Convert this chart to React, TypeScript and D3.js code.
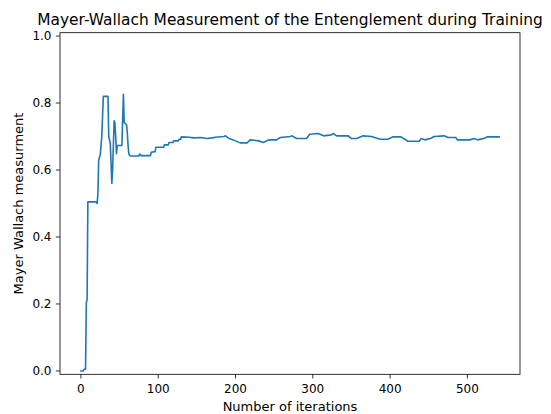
import React from "react";
import * as d3 from "d3";

const iterations = [0, 3, 4, 6, 7, 8, 9, 20, 21, 22, 23, 25, 26, 27, 29, 35, 36, 38, 40, 41, 43, 44, 45, 46, 47, 53, 55, 56, 59, 60, 61, 62, 64, 75, 76, 78, 90, 91, 96, 97, 107, 108, 113, 114, 119, 120, 126, 127, 129, 130, 140, 146, 155, 163, 170, 174, 185, 187, 191, 200, 206, 215, 219, 230, 236, 243, 253, 258, 271, 273, 279, 292, 296, 307, 314, 324, 326, 331, 346, 350, 357, 365, 376, 387, 397, 404, 414, 419, 423, 438, 440, 445, 453, 457, 470, 475, 485, 487, 503, 509, 513, 522, 526, 541];
const values = [0.0, 0.0, 0.005, 0.005, 0.205, 0.212, 0.505, 0.505, 0.5, 0.53, 0.63, 0.645, 0.672, 0.7, 0.82, 0.82, 0.7, 0.68, 0.56, 0.6, 0.747, 0.74, 0.7, 0.649, 0.673, 0.673, 0.826, 0.742, 0.735, 0.712, 0.673, 0.648, 0.642, 0.642, 0.648, 0.643, 0.643, 0.653, 0.655, 0.668, 0.668, 0.675, 0.675, 0.682, 0.682, 0.687, 0.687, 0.692, 0.692, 0.699, 0.698, 0.696, 0.697, 0.694, 0.696, 0.698, 0.7, 0.702, 0.695, 0.687, 0.681, 0.681, 0.69, 0.687, 0.682, 0.69, 0.69, 0.697, 0.7, 0.702, 0.694, 0.694, 0.707, 0.709, 0.702, 0.705, 0.709, 0.702, 0.702, 0.694, 0.694, 0.702, 0.7, 0.692, 0.692, 0.699, 0.699, 0.692, 0.686, 0.686, 0.694, 0.69, 0.695, 0.7, 0.702, 0.697, 0.697, 0.69, 0.69, 0.694, 0.69, 0.695, 0.699, 0.699];
const xTicks = [0, 100, 200, 300, 400, 500];
const yTicks = [0.0, 0.2, 0.4, 0.6, 0.8, 1.0];
const title = "Mayer-Wallach Measurement of the Entenglement during Training";
const xLabel = "Number of iterations";
const yLabel = "Mayer Wallach measurment";

export default function App() {
  const W = 551, H = 414;
  const left = 60, right = 520, top = 32.7, bottom = 374.3;
  const x = d3.scaleLinear().domain([-27.05, 568.05]).range([left, right]);
  const y = d3.scaleLinear().domain([-0.01, 1.01]).range([bottom, top]);
  const pts: [number, number][] = iterations.map((it, i) => [it, values[i]]);
  const line = d3.line<[number, number]>().x(d => x(d[0])).y(d => y(d[1]));
  const font = "DejaVu Sans, sans-serif";
  return (
    <svg width={W} height={H} style={{ position: "absolute", left: 0, top: 0, background: "#fff" }} fontFamily={font}>
      <rect x={0} y={0} width={W} height={H} fill="#fff" />
      <path d={line(pts) || ""} fill="none" stroke="#1f77b4" strokeWidth={1.6} strokeLinejoin="round" strokeLinecap="square" />
      <rect x={left} y={top} width={right - left} height={bottom - top} fill="none" stroke="#000" strokeWidth={0.8} />
      {xTicks.map(t => (
        <g key={"x" + t}>
          <line x1={x(t)} x2={x(t)} y1={bottom} y2={bottom + 4.2} stroke="#000" strokeWidth={0.8} />
          <text x={x(t)} y={393} fontSize={12} textAnchor="middle" fill="#000">{t}</text>
        </g>
      ))}
      {yTicks.map(t => (
        <g key={"y" + t}>
          <line x1={left - 4.2} x2={left} y1={y(t)} y2={y(t)} stroke="#000" strokeWidth={0.8} />
          <text x={51.5} y={y(t) + 4.3} fontSize={12} textAnchor="end" fill="#000">{t.toFixed(1)}</text>
        </g>
      ))}
      <text x={(left + right) / 2} y={25} fontSize={15.4} textAnchor="middle" fill="#000">{title}</text>
      <text x={(left + right) / 2} y={410.5} fontSize={13} textAnchor="middle" fill="#000">{xLabel}</text>
      <text transform={`translate(23,${(top + bottom) / 2}) rotate(-90)`} fontSize={13} textAnchor="middle" fill="#000">{yLabel}</text>
    </svg>
  );
}
